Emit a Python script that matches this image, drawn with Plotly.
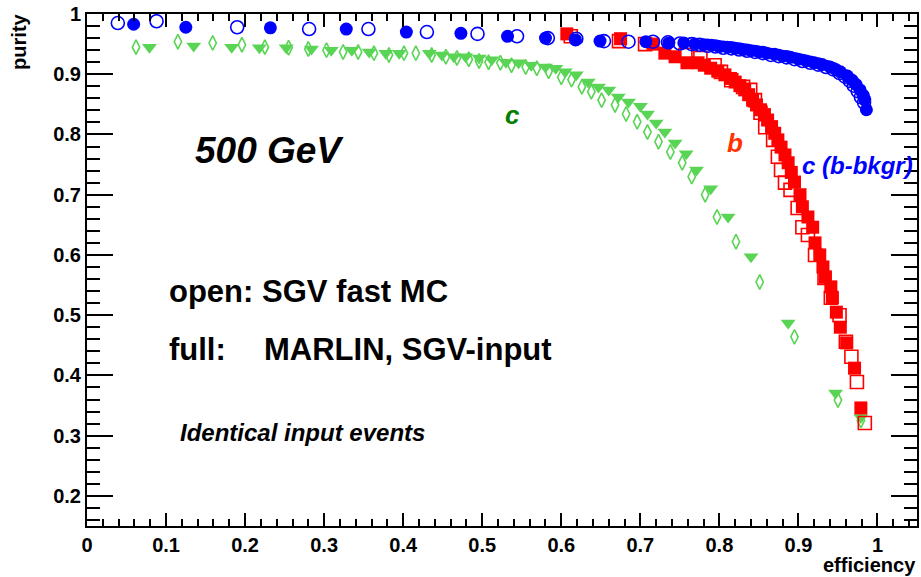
import plotly.graph_objects as go

# ---- data (efficiency, purity) ----
# c-tag with b background, MARLIN (full) - blue filled circles
cb_full_eff = [0.059, 0.125, 0.232, 0.328, 0.404, 0.473, 0.532, 0.580, 0.618, 0.649,
               0.707, 0.736, 0.755, 0.769, 0.780, 0.790, 0.800, 0.810, 0.820, 0.830,
               0.840, 0.850, 0.860, 0.870, 0.880, 0.890, 0.900, 0.910, 0.920, 0.930,
               0.940, 0.947, 0.953, 0.962, 0.968, 0.973, 0.978, 0.982, 0.984, 0.986]
cb_full_pur = [0.983, 0.978, 0.977, 0.975, 0.970, 0.968, 0.963, 0.960, 0.957, 0.955,
               0.954, 0.952, 0.952, 0.950, 0.949, 0.948, 0.946, 0.945, 0.943, 0.941,
               0.939, 0.937, 0.935, 0.933, 0.930, 0.928, 0.925, 0.922, 0.919, 0.916,
               0.912, 0.908, 0.904, 0.897, 0.890, 0.883, 0.874, 0.865, 0.858, 0.841]
# c-tag with b background, SGV (open) - blue open circles
cb_sgv_eff = [0.039, 0.088, 0.190, 0.281, 0.356, 0.430, 0.494, 0.544, 0.583, 0.619,
              0.654, 0.685, 0.716, 0.735, 0.750, 0.765, 0.775, 0.785, 0.795, 0.805,
              0.815, 0.825, 0.835, 0.845, 0.855, 0.865, 0.875, 0.885, 0.895, 0.905,
              0.915, 0.925, 0.935, 0.944, 0.952, 0.959, 0.965, 0.970, 0.975, 0.979, 0.983]
cb_sgv_pur = [0.985, 0.988, 0.978, 0.975, 0.975, 0.970, 0.967, 0.963, 0.960, 0.959,
              0.955, 0.954, 0.954, 0.953, 0.951, 0.950, 0.949, 0.947, 0.946, 0.944,
              0.943, 0.941, 0.939, 0.937, 0.935, 0.932, 0.930, 0.928, 0.925, 0.922,
              0.919, 0.916, 0.912, 0.908, 0.902, 0.896, 0.889, 0.881, 0.872, 0.862, 0.853]

# b-tag, MARLIN - red filled squares
b_full_eff = [0.607, 0.675, 0.716, 0.731, 0.744, 0.759, 0.773, 0.781, 0.789, 0.798,
              0.807, 0.814, 0.820, 0.826, 0.832, 0.837, 0.842, 0.847, 0.852, 0.857,
              0.861, 0.866, 0.870, 0.874, 0.878, 0.883, 0.887, 0.891, 0.895, 0.902,
              0.905, 0.912, 0.918, 0.921, 0.927, 0.931, 0.934, 0.941, 0.943, 0.948,
              0.953, 0.961, 0.971, 0.979]
b_full_pur = [0.967, 0.959, 0.950, 0.935, 0.929, 0.919, 0.919, 0.915, 0.910, 0.905,
              0.899, 0.893, 0.887, 0.881, 0.874, 0.866, 0.857, 0.849, 0.841, 0.833,
              0.824, 0.813, 0.802, 0.791, 0.779, 0.766, 0.753, 0.737, 0.721, 0.700,
              0.680, 0.663, 0.646, 0.620, 0.600, 0.580, 0.563, 0.547, 0.529, 0.505,
              0.480, 0.454, 0.412, 0.346]
# b-tag, SGV - red open squares
b_sgv_eff = [0.612, 0.673, 0.706, 0.757, 0.776, 0.794, 0.802, 0.815, 0.830, 0.839,
             0.845, 0.852, 0.858, 0.868, 0.874, 0.878, 0.883, 0.890, 0.899, 0.905,
             0.912, 0.921, 0.933, 0.941, 0.952, 0.960, 0.967, 0.974, 0.984]
b_sgv_pur = [0.963, 0.955, 0.950, 0.932, 0.927, 0.915, 0.904, 0.890, 0.879, 0.874,
             0.857, 0.836, 0.812, 0.791, 0.763, 0.741, 0.720, 0.708, 0.678, 0.646,
             0.633, 0.600, 0.562, 0.529, 0.500, 0.456, 0.431, 0.389, 0.321]

# c-tag, MARLIN - green filled triangles
c_full_eff = [0.079, 0.135, 0.183, 0.218, 0.252, 0.284, 0.309, 0.335, 0.357, 0.378,
              0.395, 0.433, 0.449, 0.464, 0.479, 0.496, 0.512, 0.530, 0.546, 0.562,
              0.580, 0.593, 0.605, 0.619, 0.634, 0.647, 0.660, 0.672, 0.685, 0.700,
              0.709, 0.720, 0.731, 0.744, 0.758, 0.771, 0.789, 0.811, 0.840, 0.887,
              0.947, 0.979]
c_full_pur = [0.945, 0.947, 0.945, 0.944, 0.944, 0.942, 0.940, 0.940, 0.937, 0.935,
              0.935, 0.935, 0.932, 0.929, 0.929, 0.927, 0.924, 0.920, 0.919, 0.915,
              0.912, 0.910, 0.904, 0.899, 0.887, 0.879, 0.874, 0.862, 0.854, 0.847,
              0.834, 0.819, 0.804, 0.786, 0.768, 0.741, 0.710, 0.663, 0.597, 0.487,
              0.371, 0.330]
# c-tag, SGV - green open diamonds
c_sgv_eff = [0.062, 0.115, 0.159, 0.196, 0.225, 0.255, 0.280, 0.303, 0.324, 0.343,
             0.363, 0.382, 0.401, 0.416, 0.436, 0.454, 0.468, 0.483, 0.496, 0.508,
             0.523, 0.537, 0.555, 0.569, 0.584, 0.600, 0.613, 0.626, 0.638, 0.651,
             0.668, 0.682, 0.696, 0.709, 0.723, 0.738, 0.753, 0.765, 0.782, 0.797,
             0.821, 0.851, 0.895, 0.950, 0.979]
c_sgv_pur = [0.945, 0.954, 0.952, 0.949, 0.945, 0.944, 0.942, 0.940, 0.937, 0.937,
             0.935, 0.932, 0.935, 0.935, 0.932, 0.929, 0.927, 0.925, 0.922, 0.920,
             0.919, 0.915, 0.912, 0.910, 0.905, 0.895, 0.891, 0.879, 0.871, 0.857,
             0.849, 0.834, 0.821, 0.804, 0.788, 0.771, 0.753, 0.730, 0.700, 0.663,
             0.622, 0.555, 0.464, 0.359, 0.325]

x_ticks = [0, 0.1, 0.2, 0.3, 0.4, 0.5, 0.6, 0.7, 0.8, 0.9, 1.0]
x_tick_text = ["0", "0.1", "0.2", "0.3", "0.4", "0.5", "0.6", "0.7", "0.8", "0.9", "1"]
y_ticks = [0.2, 0.3, 0.4, 0.5, 0.6, 0.7, 0.8, 0.9, 1.0]
y_tick_text = ["0.2", "0.3", "0.4", "0.5", "0.6", "0.7", "0.8", "0.9", "1"]

BLUE = "#0000ff"
RED = "#ff0000"
GREEN = "#59d454"
FONT = "Liberation Sans, Arial, Helvetica, sans-serif"

fig = go.Figure()


def add(x, y, symbol, color, size, lw=1.6):
    fig.add_trace(go.Scatter(x=x, y=y, mode="markers", showlegend=False,
                             marker=dict(symbol=symbol, color=color, size=size,
                                         line=dict(color=color, width=lw))))


add(c_sgv_eff, c_sgv_pur, "diamond-tall-open", GREEN, 10.5)
add(c_full_eff, c_full_pur, "triangle-down", GREEN, 13, 0)
add(b_sgv_eff, b_sgv_pur, "square-open", RED, 13)
add(b_full_eff, b_full_pur, "square", RED, 13, 0)
add(cb_sgv_eff, cb_sgv_pur, "circle-open", BLUE, 13)
add(cb_full_eff, cb_full_pur, "circle", BLUE, 13, 0)

ann = []


def txt(x, y, s, size, color="black", italic=False, xanchor="left", **kw):
    ann.append(dict(x=x, y=y, xref="x", yref="y", text=s, showarrow=False,
                    xanchor=xanchor, yanchor="middle",
                    font=dict(family=FONT, size=size, color=color, weight="bold",
                              style="italic" if italic else "normal"), **kw))


txt(0.1337, 0.774, "500 GeV", 37, italic=True)
txt(0.1009, 0.539, "open: SGV fast MC", 31)
txt(0.1009, 0.443, "full:", 31)
txt(0.2220, 0.443, "MARLIN, SGV-input", 31)
txt(0.1148, 0.306, "Identical input events", 24, italic=True)
txt(0.538, 0.832, "c", 26, color="#008000", italic=True, xanchor="center")
txt(0.8197, 0.786, "b", 26, color="#ff3300", italic=True, xanchor="center")
txt(0.902, 0.749, "c (b-bkgr)", 24, color=BLUE, italic=True)

ann.append(dict(x=1.0, y=-0.0996, xref="paper", yref="paper", text="efficiency",
                showarrow=False, xanchor="right", yanchor="bottom", borderpad=0,
                font=dict(family=FONT, size=20, color="black", weight="bold")))
ann.append(dict(x=-0.082, y=1.004, xref="paper", yref="paper", text="purity",
                showarrow=False, xanchor="center", yanchor="top", textangle=-90,
                font=dict(family=FONT, size=20, color="black", weight="bold")))

axis_common = dict(showline=True, linecolor="black", linewidth=2, mirror="allticks",
                   ticks="inside", tickcolor="black", tickwidth=2,
                   showgrid=False, zeroline=False,
                   tickfont=dict(family=FONT, size=20, color="black", weight="bold"))

fig.update_layout(
    width=921, height=577,
    margin=dict(l=87, r=2, t=14, b=51),
    paper_bgcolor="white", plot_bgcolor="white",
    annotations=ann,
    xaxis=dict(range=[0, 1.05], tickvals=x_ticks, ticktext=x_tick_text, ticklen=13,
               minor=dict(dtick=0.02, tick0=0, ticklen=7, ticks="inside",
                          tickcolor="black", tickwidth=2),
               **axis_common),
    yaxis=dict(range=[0.15, 1.0], tickvals=y_ticks, ticktext=y_tick_text, ticklen=26,
               minor=dict(dtick=0.02, tick0=0, ticklen=13, ticks="inside",
                          tickcolor="black", tickwidth=2),
               **axis_common),
)

fig.write_html("out.html")
